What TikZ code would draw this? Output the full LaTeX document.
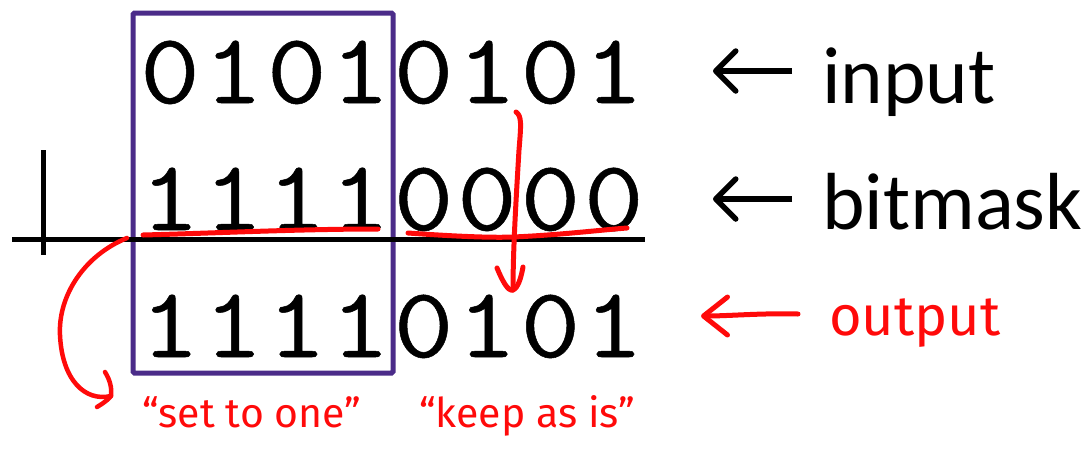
\documentclass[tikz,border=0pt]{standalone}
\usepackage{fontspec}
\setmainfont{Carlito}
\newfontfamily\handfont{Fira Sans}
\newfontfamily\digitfont{Latin Modern Mono}[FakeStretch=1.16, FakeBold=0.5]
\usetikzlibrary{arrows.meta}
\definecolor{boxpurple}{HTML}{4B2C89}
\definecolor{penred}{HTML}{FF0A0A}
\begin{document}
\begin{tikzpicture}[x=1pt,y=-1pt,
  digit/.style={font=\digitfont\fontsize{100}{100}\selectfont, inner sep=0, anchor=base},
  lbltext/.style={font=\fontsize{81}{81}\selectfont, inner sep=0, anchor=base west},
  hand/.style={font=\handfont\fontsize{41}{41}\selectfont, text=penred, inner sep=0, anchor=base},
  pen/.style={draw=penred, line width=5, line cap=round, line join=round},
  blkarrow/.style={draw=black, line width=5.5, -{Straight Barb[length=20pt,width=40pt,round]}},
  redarrow/.style={pen, -{Straight Barb[length=24pt,width=38pt,round]}},
  rule/.style={draw=black, line width=5},
  frame/.style={draw=boxpurple, line width=5, rounded corners=1.5}]
\useasboundingbox (0,0) rectangle (1091,453);

% digits
\foreach \d [count=\i] in {0,1,0,1,0,1,0,1}
  \node[digit] (ra\i) at ({170+63.4*(\i-1)},103) {\d};
\foreach \d [count=\i] in {1,1,1,1,0,0,0,0}
  \node[digit] (rb\i) at ({170+63.4*(\i-1)},230) {\d};
\foreach \d [count=\i] in {1,1,1,1,0,1,0,1}
  \node[digit] (rc\i) at ({170+63.4*(\i-1)},357) {\d};

% purple frame
\draw[frame] (133,13) rectangle (393,373);

% OR sum rule
\coordinate (ruleL) at (12,239);
\coordinate (ruleR) at (645,239);
\draw[rule] (ruleL) -- (ruleR);
\coordinate (barT) at (43,150);
\coordinate (barB) at (43,255);
\draw[rule] (barT) -- (barB);

% labels
\node[lbltext] (inlbl) at (822,103) {input};
\node[lbltext] (bmlbl) at (822,229) {bitmask};
\coordinate (a1s) at (792,71);
\coordinate (a1e) at (713,71);
\coordinate (a2s) at (792,199);
\coordinate (a2e) at (713,199);
\draw[blkarrow] (a1s) -- (a1e);
\draw[blkarrow] (a2s) -- (a2e);

% red annotations
\node[hand, anchor=base west, font=\handfont\fontsize{56}{56}\selectfont] (outlbl) at (829,335) {output};
\coordinate (a3s) at (798,314);
\coordinate (a3e) at (701,316);
\draw[redarrow] (a3s) .. controls (760,313) and (730,316) .. (a3e);

\draw[pen] (143,235) .. controls (220,233) and (300,229) .. (378,229);
\draw[pen] (408,233) .. controls (450,236) and (490,238) .. (513,237) .. controls (560,235) and (600,230) .. (627,228);

% keep arrow
\coordinate (kA) at (516,112);
\coordinate (kB) at (513,290);
\draw[pen] (kA) .. controls (522,116) and (521,125) .. (519,150) .. controls (516,200) and (513,250) .. (kB);
\draw[pen] (497,268) .. controls (502,280) and (508,292) .. (kB) .. controls (518,288) and (521,278) .. (523,267);

% set arrow
\coordinate (sA) at (127,238);
\coordinate (sB) at (111,396);
\draw[pen, line width=4.5] (sA) .. controls (85,255) and (58,295) .. (60,335) .. controls (62,380) and (85,402) .. (sB);
\draw[pen, line width=4.5] (105,372) .. controls (110,380) and (112,388) .. (sB) .. controls (106,402) and (100,405) .. (97,407);

\node[hand] (setone) at (252,427) {“set to one”};
\node[hand] (keepis) at (527,427) {“keep as is”};
\end{tikzpicture}
\end{document}
